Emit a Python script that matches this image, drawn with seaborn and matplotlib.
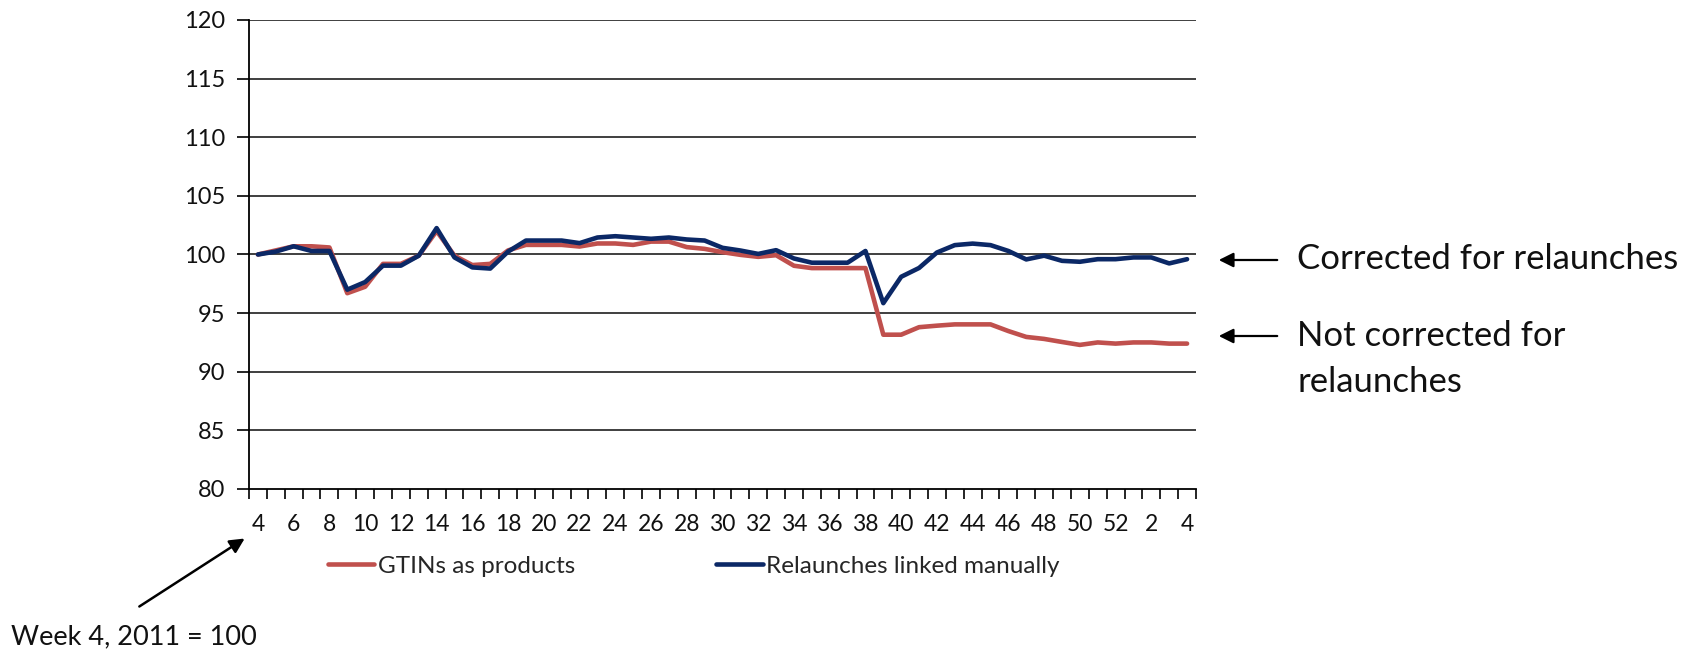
import numpy as np
import pandas as pd
import matplotlib
matplotlib.use("Agg")
import matplotlib.pyplot as plt
import seaborn as sns

# ---- data ----
weeks = list(range(4, 53)) + [1, 2, 3, 4]
gtins_as_products = [
    100.0, 100.35, 100.7, 100.7, 100.6, 96.7, 97.25, 99.2, 99.2, 99.9,
    102.0, 99.9, 99.1, 99.2, 100.35, 100.82, 100.82, 100.82, 100.68, 100.94,
    100.94, 100.82, 101.1, 101.1, 100.63, 100.48, 100.2, 99.97, 99.8, 99.94,
    99.04, 98.84, 98.84, 98.84, 98.84, 93.16, 93.16, 93.8, 93.93, 94.04,
    94.04, 94.04, 93.47, 92.97, 92.8, 92.54, 92.29, 92.5, 92.4, 92.5,
    92.5, 92.4, 92.4,
]
relaunches_linked = [
    100.0, 100.25, 100.7, 100.3, 100.3, 97.0, 97.65, 99.05, 99.05, 99.9,
    102.25, 99.75, 98.9, 98.8, 100.25, 101.19, 101.19, 101.19, 100.97, 101.45,
    101.56, 101.45, 101.34, 101.45, 101.28, 101.19, 100.57, 100.34, 100.05, 100.37,
    99.66, 99.3, 99.3, 99.3, 100.3, 95.85, 98.1, 98.85, 100.17, 100.8,
    100.93, 100.8, 100.3, 99.58, 99.9, 99.46, 99.38, 99.6, 99.6, 99.75,
    99.75, 99.24, 99.6,
]
series_names = ["GTINs as products", "Relaunches linked manually"]
series_colors = ["#C0504D", "#0B2866"]
y_ticks = [80, 85, 90, 95, 100, 105, 110, 115, 120]

idx = np.arange(len(weeks))
df = pd.DataFrame({
    "pos": np.concatenate([idx, idx]),
    "value": gtins_as_products + relaunches_linked,
    "series": [series_names[0]] * len(weeks) + [series_names[1]] * len(weeks),
})

# ---- figure ----
sns.set_theme(style="white")
plt.rcParams["font.family"] = ["Lato", "DejaVu Sans"]

W, H = 1694, 654
fig = plt.figure(figsize=(W / 100, H / 100), dpi=100)
ax = fig.add_axes([249 / W, 1 - 489 / H, (1196 - 249) / W, (489 - 20) / H])

sns.lineplot(data=df, x="pos", y="value", hue="series", hue_order=series_names,
             palette=series_colors, linewidth=3.3, ax=ax, legend=True)

ax.set_xlim(-0.5, len(weeks) - 0.5)
ax.set_ylim(80, 120)
ax.set_yticks(y_ticks)
ax.set_yticklabels([str(v) for v in y_ticks], fontsize=17, color="#111111")
for v in y_ticks[1:]:
    ax.axhline(v, color="#303030", linewidth=1.3, zorder=0)

# x ticks: marks at category boundaries, labels every other category
ax.set_xticks(np.arange(-0.5, len(weeks), 1.0))
ax.set_xticklabels([])
ax.set_xticks(idx[::2], minor=True)
ax.set_xticklabels([str(weeks[i]) for i in idx[::2]], minor=True, fontsize=16.5, color="#111111")
ax.tick_params(axis="x", which="major", direction="out", length=7, width=1.2, color="black", bottom=True)
ax.tick_params(axis="x", which="minor", length=0, pad=18)
ax.tick_params(axis="y", direction="out", length=9, width=1.2, color="black", left=True, pad=8)
ax.set_xlabel("")
ax.set_ylabel("")
ax.grid(False)
for side in ["top", "right"]:
    ax.spines[side].set_visible(False)
for side in ["left", "bottom"]:
    ax.spines[side].set_color("black")
    ax.spines[side].set_linewidth(1.3)

leg = ax.legend(loc="center", bbox_to_anchor=((694 - 249) / (1196 - 249), 1 - (566 - 20) / (489 - 20)),
                ncol=2, frameon=False, fontsize=17.5, handlelength=1.9,
                handletextpad=0.15, columnspacing=5.8)
for line in leg.get_lines():
    line.set_linewidth(3.3)

# right-side annotations
arrow_kw = dict(arrowstyle="-|>", color="black", lw=1.6, mutation_scale=22)
ax.annotate("", xy=(1216 / W, 1 - 260 / H), xytext=(1280 / W, 1 - 260 / H),
            xycoords="figure fraction", textcoords="figure fraction", arrowprops=arrow_kw)
ax.annotate("", xy=(1216 / W, 1 - 336 / H), xytext=(1280 / W, 1 - 336 / H),
            xycoords="figure fraction", textcoords="figure fraction", arrowprops=arrow_kw)
fig.text(1297 / W, 1 - 259 / H, "Corrected for relaunches", fontsize=25,
         va="center", ha="left", color="#111111")
fig.text(1297 / W, 1 - 359 / H, "Not corrected for\nrelaunches", fontsize=25,
         va="center", ha="left", color="#111111", linespacing=1.5)

# bottom-left annotation
ax.annotate("", xy=(247 / W, 1 - 537 / H), xytext=(137 / W, 1 - 608 / H),
            xycoords="figure fraction", textcoords="figure fraction",
            arrowprops=dict(arrowstyle="-|>", color="black", lw=1.8, mutation_scale=22))
fig.text(11 / W, 1 - 637 / H, "Week 4, 2011 = 100", fontsize=19.5,
         va="center", ha="left", color="#111111")

fig.savefig("out.png", dpi=100, facecolor="white")
